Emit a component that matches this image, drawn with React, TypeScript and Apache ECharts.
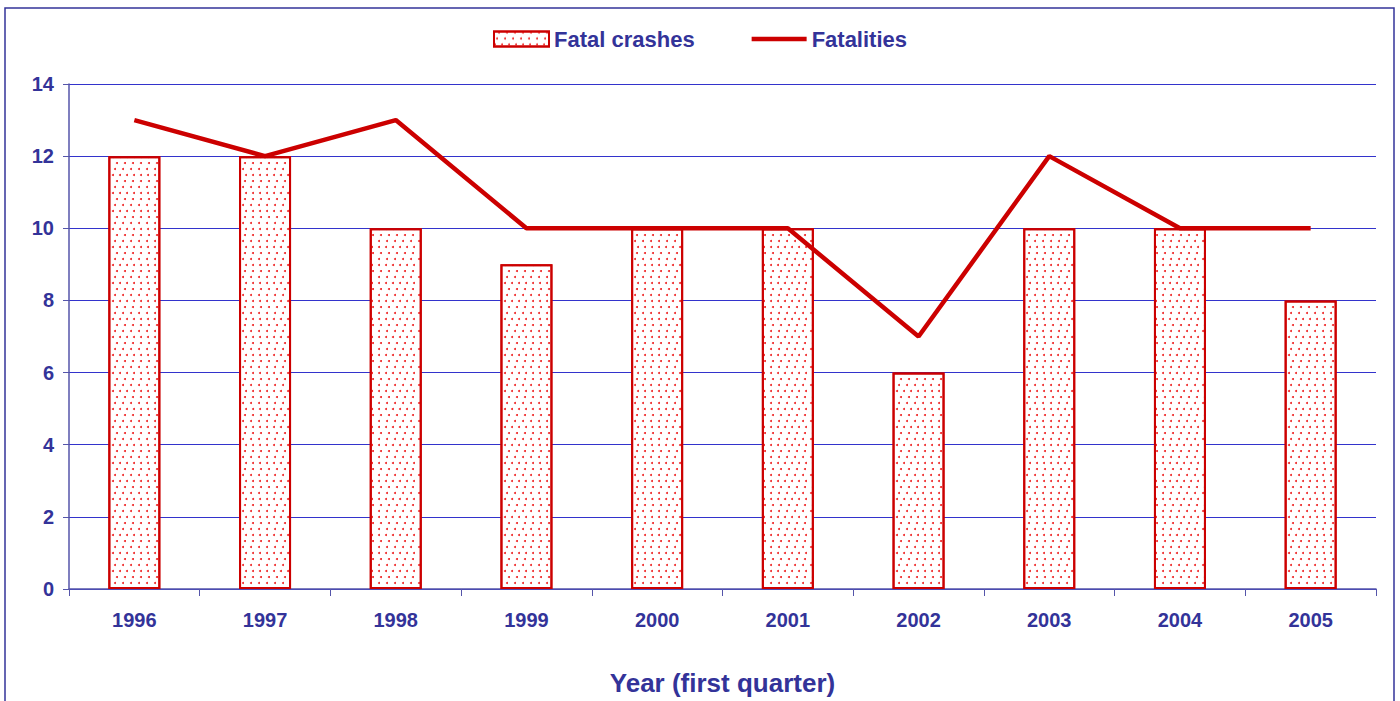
import React, { useEffect, useRef } from "react";
import * as echarts from "echarts";

const years = ["1996", "1997", "1998", "1999", "2000", "2001", "2002", "2003", "2004", "2005"];
const fatalCrashes = [12, 12, 10, 9, 10, 10, 6, 10, 10, 8];
const fatalities = [13, 12, 13, 10, 10, 10, 7, 12, 10, 10];

const BLUE = "#333399";
const RED = "#cc0000";
const FONT = "Liberation Sans, Arial, sans-serif";

export default function App() {
  const ref = useRef<HTMLDivElement>(null);
  useEffect(() => {
    const chart = echarts.init(ref.current!, undefined, { renderer: "svg" });
    const decal = {
      symbol: "circle",
      symbolSize: 1,
      color: "#ee2222",
      backgroundColor: "#ffffff",
      dashArrayX: [[2, 5], [0, 3.5, 2, 1.5], [0, 1.5, 2, 3.5]],
      dashArrayY: [2, 3.2],
      rotation: 0,
    };
    chart.setOption({
      animation: false,
      backgroundColor: "#ffffff",
      textStyle: { fontFamily: FONT },
      graphic: [
        {
          type: "rect",
          shape: { x: 5, y: 8, width: 1389, height: 720 },
          style: { fill: "none", stroke: BLUE, lineWidth: 1.5 },
          silent: true,
        },
      ],
      legend: {
        top: 23,
        left: "center",
        itemGap: 57,
        itemWidth: 55,
        itemHeight: 15,
        textStyle: { color: BLUE, fontWeight: "bold", fontSize: 22, fontFamily: FONT },
        data: [
          { name: "Fatal crashes", icon: "rect" },
          { name: "Fatalities", icon: "path://M0,0 L60,0 L60,5 L0,5 Z", itemStyle: { color: RED } },
        ],
      },
      grid: { left: 69, right: 24, top: 84, bottom: 111, containLabel: false },
      xAxis: {
        type: "category",
        data: years,
        boundaryGap: true,
        name: "Year (first quarter)",
        nameLocation: "middle",
        nameGap: 81,
        nameTextStyle: { color: BLUE, fontWeight: "bold", fontSize: 26, fontFamily: FONT },
        axisLine: { lineStyle: { color: "#5555aa", width: 1.5 } },
        axisTick: { show: true, length: 7, inside: false, lineStyle: { color: "#5555aa" } },
        axisLabel: { color: BLUE, fontWeight: "bold", fontSize: 20, margin: 21, fontFamily: FONT },
      },
      yAxis: {
        type: "value",
        min: 0,
        max: 14,
        interval: 2,
        axisLine: { show: true, lineStyle: { color: "#5555aa", width: 1.5 } },
        axisTick: { show: true, length: 6, lineStyle: { color: "#5555aa" } },
        axisLabel: { color: BLUE, fontWeight: "bold", fontSize: 20, margin: 15, fontFamily: FONT },
        splitLine: { show: true, lineStyle: { color: "#3333cc", width: 1 } },
      },
      series: [
        {
          name: "Fatal crashes",
          type: "bar",
          data: fatalCrashes,
          barWidth: 52,
          itemStyle: {
            color: "#ffffff",
            borderColor: RED,
            borderWidth: 2,
            decal,
          },
        },
        {
          name: "Fatalities",
          type: "line",
          data: fatalities,
          symbol: "none",
          lineStyle: { color: RED, width: 4.5 },
          itemStyle: { color: RED },
          z: 5,
        },
      ],
    });
    return () => chart.dispose();
  }, []);
  return <div ref={ref} style={{ position: "fixed", left: 0, top: 0, width: 1400, height: 701 }} />;
}
